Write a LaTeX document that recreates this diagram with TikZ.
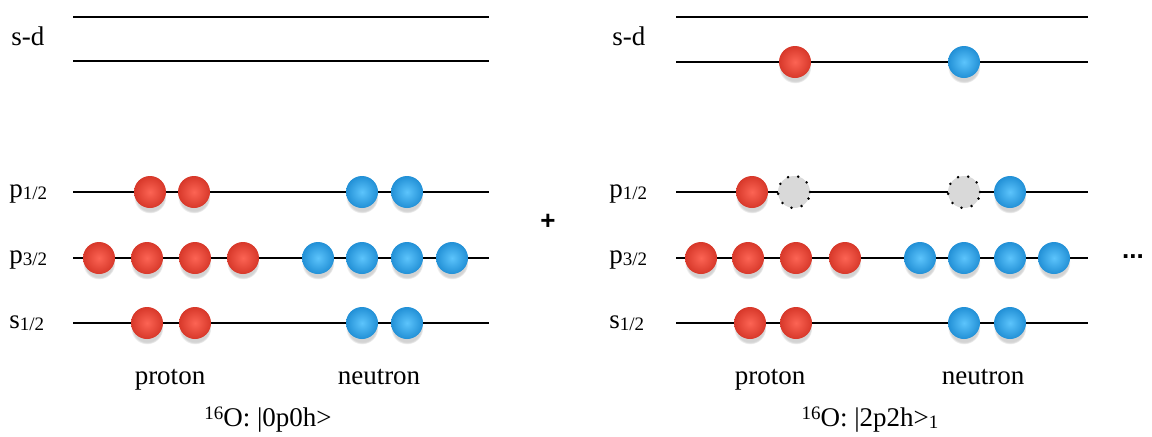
\documentclass[tikz,border=0pt]{standalone}
\usepackage{fontspec}
\setmainfont{Liberation Serif}
\newfontfamily\signfont{Liberation Sans}
\usetikzlibrary{shadows}
\definecolor{protred}{RGB}{215,56,42}
\definecolor{protlight}{RGB}{252,100,84}
\definecolor{neutblue}{RGB}{34,144,214}
\definecolor{neutlight}{RGB}{92,196,252}
\newcommand{\lsub}[1]{\raisebox{-1.2pt}{\fontsize{9.5}{10}\selectfont #1}}

\tikzset{
  level/.style={line width=1pt, black},
  lvllabel/.style={anchor=base west, inner sep=0pt, font=\fontsize{13.5}{16}\selectfont},
  kind/.style={anchor=base, inner sep=0pt, font=\fontsize{13.5}{16}\selectfont},
  sign/.style={inner sep=0pt, font=\fontsize{13}{14}\selectfont\signfont\bfseries},
  ballshadow/.style={circular drop shadow={shadow xshift=0pt, shadow yshift=-2.5pt, shadow scale=1.02, opacity=0.35}},
  prot/.style={circle, minimum size=16pt, inner sep=0pt, inner color=protlight, outer color=protred, ballshadow},
  neut/.style={circle, minimum size=16pt, inner sep=0pt, inner color=neutlight, outer color=neutblue, ballshadow},
  hole/.style={circle, minimum size=16pt, inner sep=0pt, fill=black!15, draw=black, line width=1.4pt,
    dash pattern=on 0pt off 5.2pt, line cap=round}
}

\begin{document}
\begin{tikzpicture}[x=0.5pt, y=-0.5pt]
\useasboundingbox (0,0) rectangle (1152,436);

% level lines, left panel
\foreach \n/\y in {sdA/17, sdB/61, p12/192, p32/258, s12/323} {
  \coordinate (L\n a) at (73,\y);
  \coordinate (L\n b) at (489,\y);
  \draw[level] (L\n a) -- (L\n b);
}
% level lines, right panel
\foreach \n/\y in {sdA/17, sdB/62, p12/192, p32/258, s12/323} {
  \coordinate (R\n a) at (676,\y);
  \coordinate (R\n b) at (1088,\y);
  \draw[level] (R\n a) -- (R\n b);
}

% labels
\node[lvllabel] (Lsd) at (11,45) {s-d};
\node[lvllabel] (Lp12) at (9,197) {p\lsub{1/2}};
\node[lvllabel] (Lp32) at (9,263) {p\lsub{3/2}};
\node[lvllabel] (Ls12) at (9,328) {s\lsub{1/2}};
\node[lvllabel] (Rsd) at (612,45) {s-d};
\node[lvllabel] (Rp12) at (609,197) {p\lsub{1/2}};
\node[lvllabel] (Rp32) at (609,263) {p\lsub{3/2}};
\node[lvllabel] (Rs12) at (609,328) {s\lsub{1/2}};

% left panel: |0p0h>
\foreach \x [count=\i] in {150,194} \node[prot] (Lpp\i) at (\x,192) {};
\foreach \x [count=\i] in {362,407} \node[neut] (Lnp\i) at (\x,192) {};
\foreach \x [count=\i] in {99,147,195,243} \node[prot] (Lpq\i) at (\x,258) {};
\foreach \x [count=\i] in {318,362,407,452} \node[neut] (Lnq\i) at (\x,258) {};
\foreach \x [count=\i] in {147,195} \node[prot] (Lps\i) at (\x,323) {};
\foreach \x [count=\i] in {362,407} \node[neut] (Lns\i) at (\x,323) {};

% right panel: |2p2h>_1
\node[prot] (Rpd) at (795,62) {};
\node[neut] (Rnd) at (964,62) {};
\node[prot] (Rpp1) at (752,192) {};
\node[hole] (Rph) at (794,192) {};
\node[hole] (Rnh) at (964,192) {};
\node[neut] (Rnp1) at (1010,192) {};
\foreach \x [count=\i] in {701,748,796,845} \node[prot] (Rpq\i) at (\x,258) {};
\foreach \x [count=\i] in {920,964,1010,1054} \node[neut] (Rnq\i) at (\x,258) {};
\foreach \x [count=\i] in {750,796} \node[prot] (Rps\i) at (\x,323) {};
\foreach \x [count=\i] in {964,1010} \node[neut] (Rns\i) at (\x,323) {};

% captions
\node[kind] (Lprot) at (170,384) {proton};
\node[kind] (Lneut) at (379,384) {neutron};
\node[kind] (Rprot) at (770,384) {proton};
\node[kind] (Rneut) at (983,384) {neutron};
\node[kind] (Lstate) at (268,426) {\raisebox{3.5pt}{\fontsize{9.5}{10}\selectfont 16}O: |0p0h>};
\node[kind] (Rstate) at (870,426) {\raisebox{3.5pt}{\fontsize{9.5}{10}\selectfont 16}O: |2p2h>\lsub{1}};

\node[sign] (plus) at (548,222) {+};
\node[sign] (dots) at (1133,257) {...};
\end{tikzpicture}
\end{document}
